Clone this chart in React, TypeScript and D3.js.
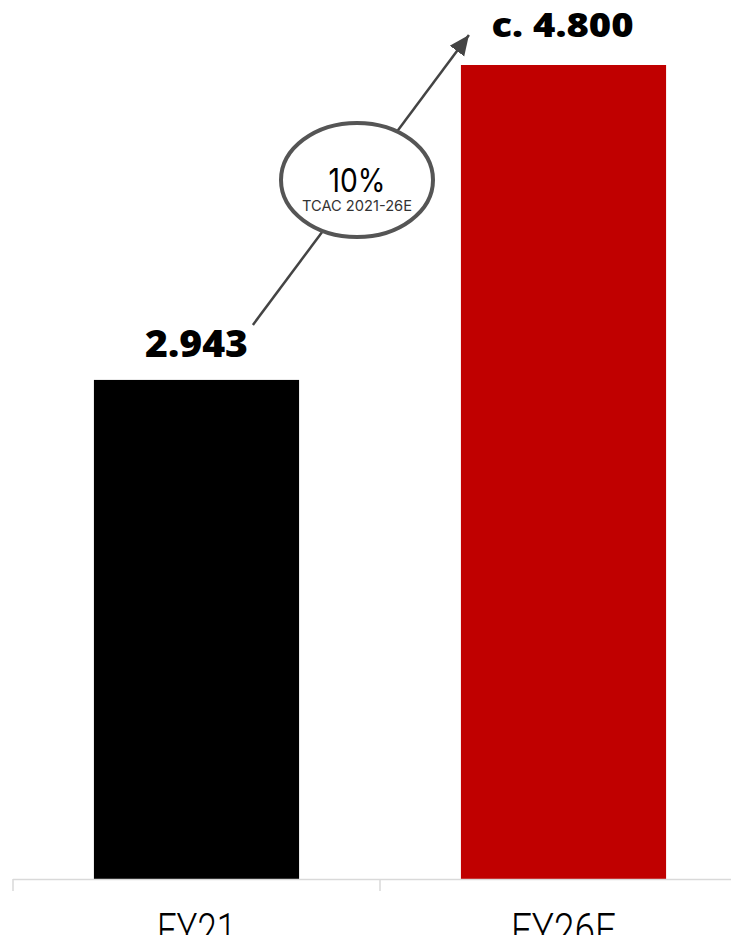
import React from "react";
import * as d3 from "d3";

const categories = ["FY21", "FY26E"];
const values = [2.943, 4.8];
const valueLabels = ["2.943", "c. 4.800"];
const barColors = ["#000000", "#C00000"];
const cagrValue = "10%";
const cagrLabel = "TCAC 2021-26E";

const W = 739;
const H = 943;

export default function App() {
  const x = d3
    .scaleBand<string>()
    .domain(categories)
    .range([13, 747])
    .paddingInner(0.441)
    .paddingOuter(0.2205);
  const y = d3.scaleLinear().domain([0, 4.8]).range([879, 65]);
  const bw = x.bandwidth();

  const x0 = (x(categories[0]) as number) + bw * 0.775;
  const y0 = y(values[0]) - 55;
  const x1 = (x(categories[1]) as number) + 8;
  const y1 = y(values[1]) - 30;
  const cx = 357;
  const cy = 180;

  const catWidths = [79, 105];
  const valSizes = [37, 34];
  const valWidths = [103, 142];
  const valBase = [357, 37];

  return (
    <div style={{ margin: -8 }}>
      <svg width={W} height={H} style={{ display: "block", background: "#fff" }}>
        <defs>
          <marker
            id="ah2"
            viewBox="0 0 10 10"
            refX="10"
            refY="5"
            markerWidth="20"
            markerHeight="20"
            orient="auto"
            markerUnits="userSpaceOnUse"
          >
            <path d="M0,0.5 L10,5 L0,9.5 z" fill="#444" />
          </marker>
        </defs>
        {categories.map((c, i) => (
          <rect
            key={c}
            x={x(c)}
            y={y(values[i])}
            width={bw}
            height={y(0) - y(values[i])}
            fill={barColors[i]}
          />
        ))}
        <line x1={13} x2={W} y1={879.5} y2={879.5} stroke="#d9d9d9" strokeWidth={1.5} />
        {[13, 380].map((t) => (
          <line key={t} x1={t} x2={t} y1={879} y2={891} stroke="#d9d9d9" strokeWidth={1.5} />
        ))}
        {categories.map((c, i) => (
          <text
            key={c}
            x={(x(c) as number) + bw / 2 - catWidths[i] / 2}
            y={946}
            fontFamily="Roboto, sans-serif"
            fontWeight={300}
            fontSize={46}
            textLength={catWidths[i]}
            lengthAdjust="spacingAndGlyphs"
            fill="#000"
          >
            {c}
          </text>
        ))}
        {categories.map((c, i) => (
          <text
            key={c + "v"}
            x={(x(c) as number) + bw / 2 - valWidths[i] / 2 + (i === 1 ? -1 : 0)}
            y={valBase[i]}
            fontFamily="'Open Sans', sans-serif"
            fontWeight={800}
            fontSize={valSizes[i]}
            textLength={valWidths[i]}
            lengthAdjust="spacingAndGlyphs"
            fill="#000"
          >
            {valueLabels[i]}
          </text>
        ))}
        <line x1={x0} y1={y0} x2={x1} y2={y1} stroke="#444" strokeWidth={2.5} markerEnd="url(#ah2)" />
        <ellipse cx={cx} cy={cy} rx={76} ry={57} fill="#fff" stroke="#555" strokeWidth={4} />
        <text
          x={cx - 28.5}
          y={192}
          fontFamily="Inter, sans-serif"
          fontSize={33}
          textLength={57}
          lengthAdjust="spacingAndGlyphs"
          fill="#000"
        >
          {cagrValue}
        </text>
        <text
          x={cx - 55}
          y={211}
          fontFamily="Inter, sans-serif"
          fontSize={14.5}
          textLength={110}
          lengthAdjust="spacingAndGlyphs"
          fill="#333"
        >
          {cagrLabel}
        </text>
      </svg>
    </div>
  );
}
